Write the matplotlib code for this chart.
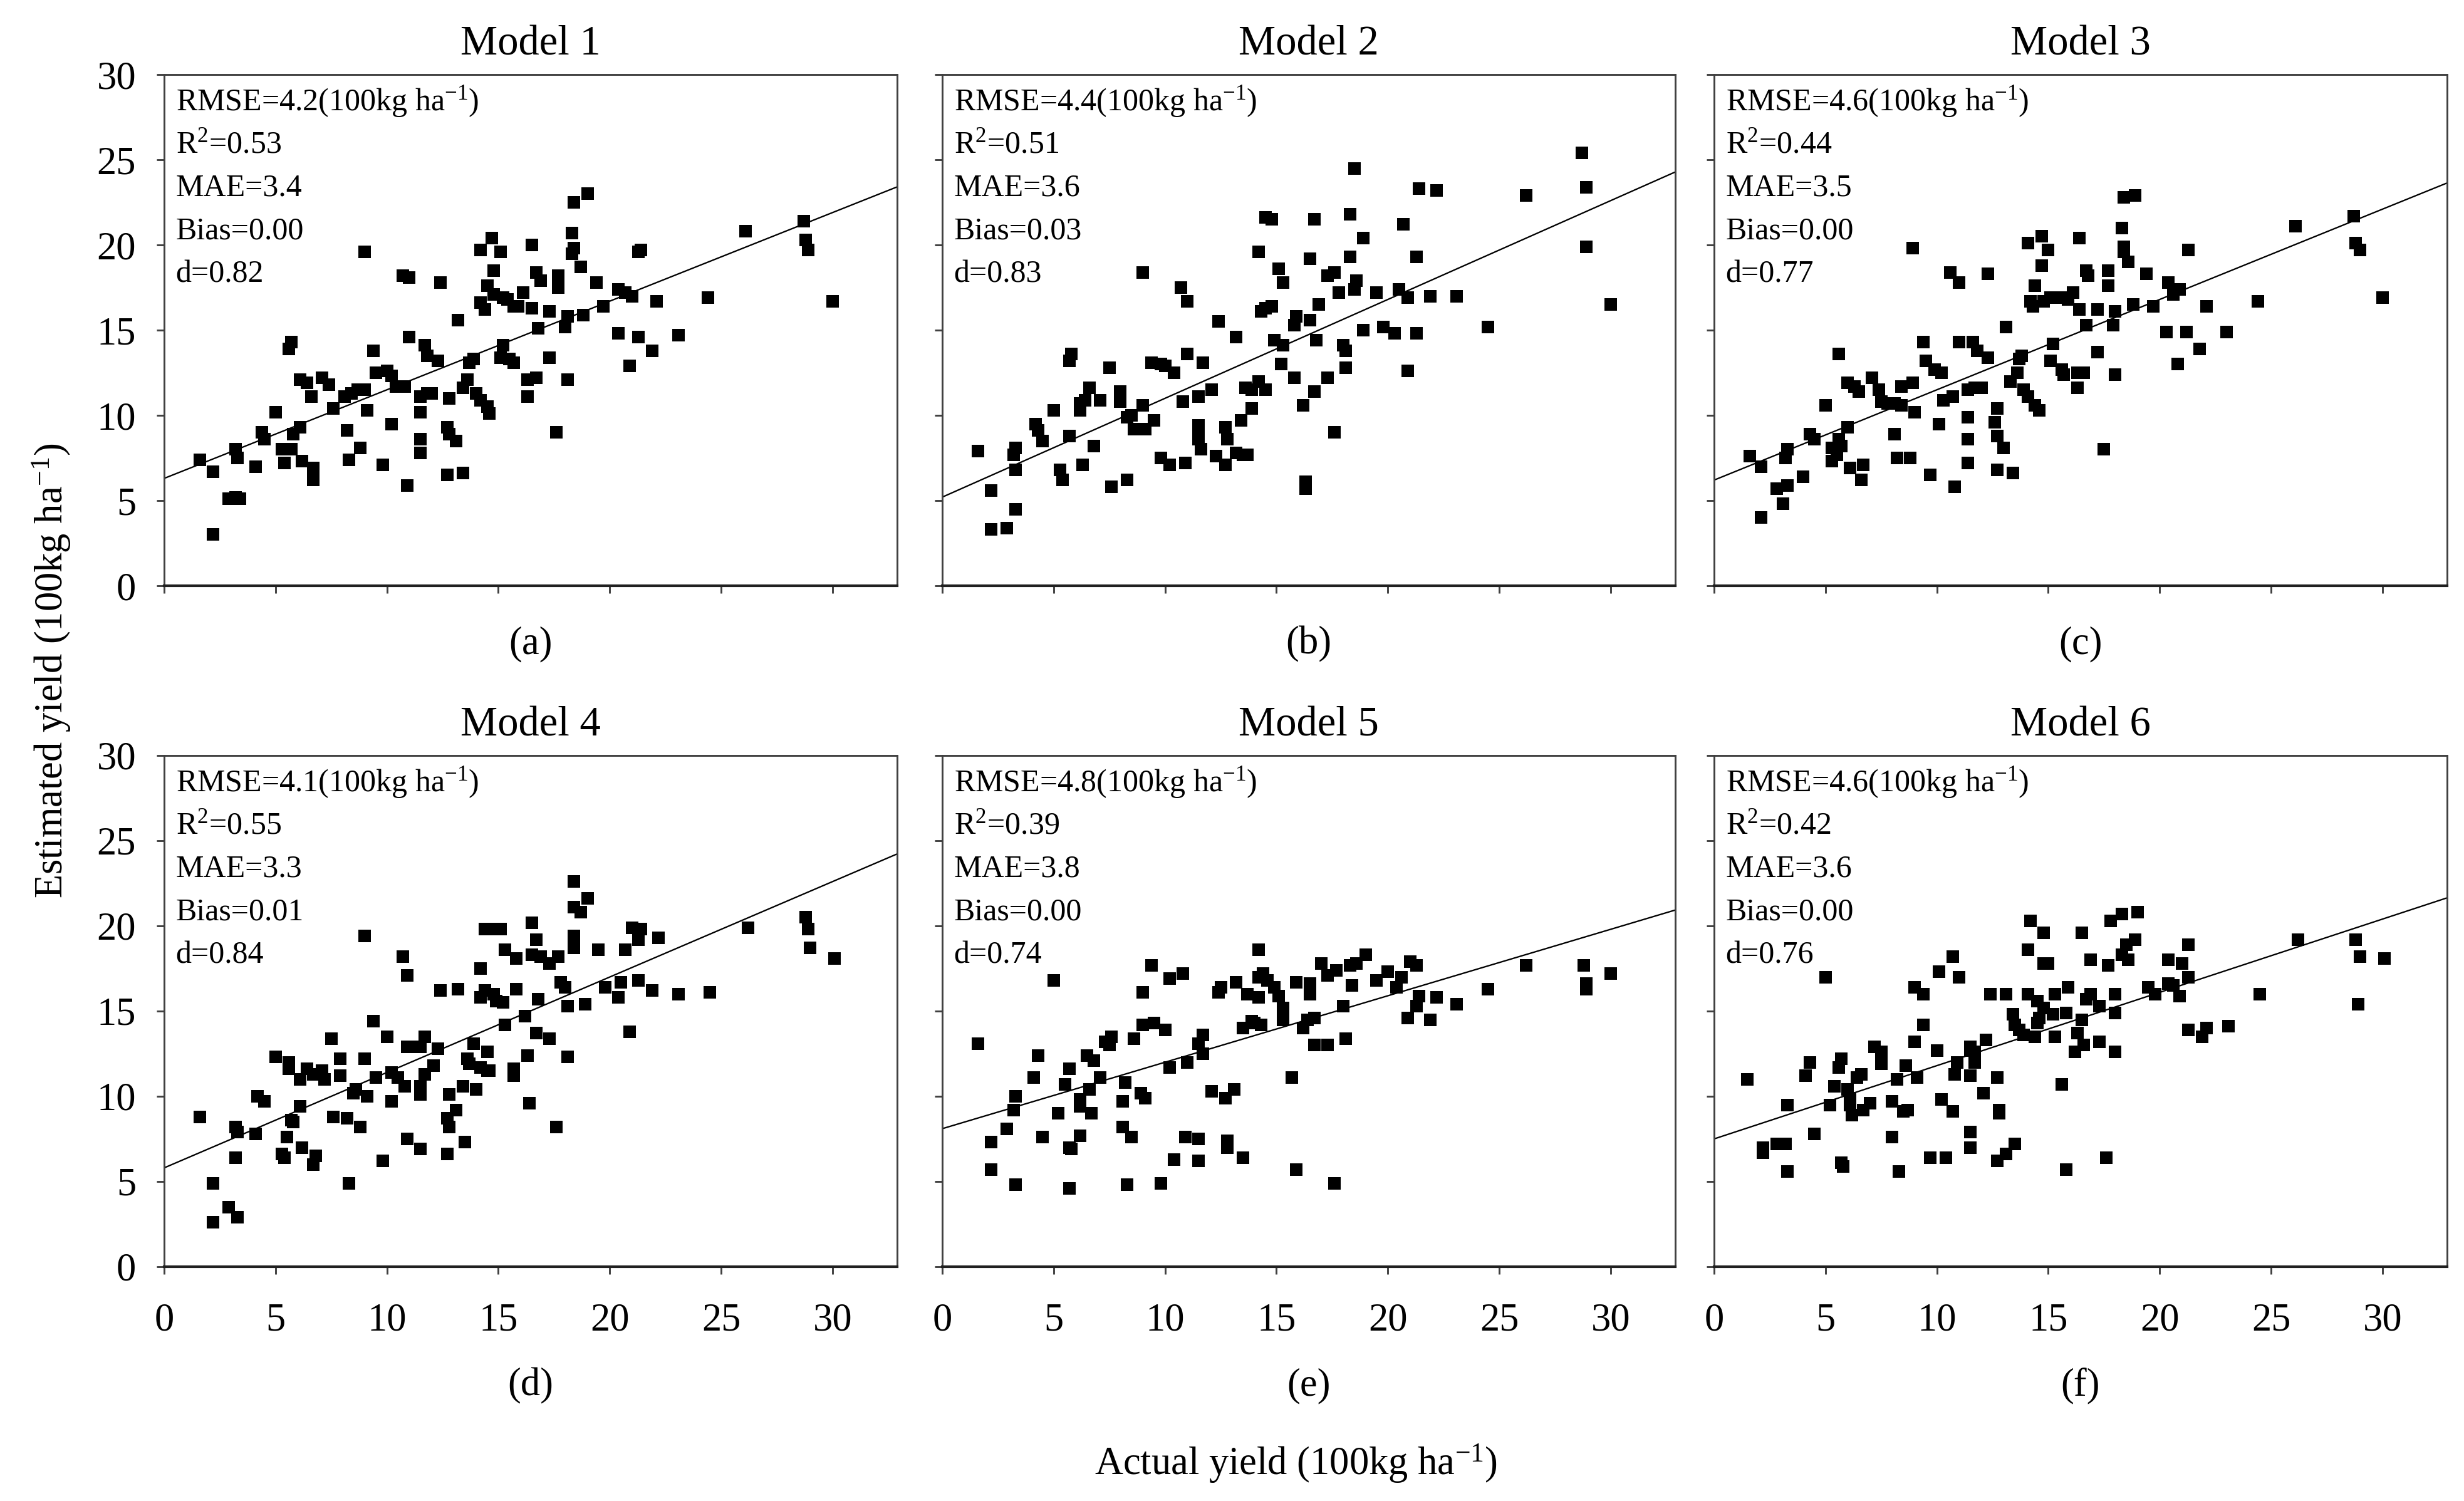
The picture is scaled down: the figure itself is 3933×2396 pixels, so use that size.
import matplotlib
matplotlib.use("Agg")
import matplotlib.pyplot as plt
import numpy as np

plt.rcParams['font.family'] = ['Liberation Serif', 'DejaVu Serif']
plt.rcParams['mathtext.fontset'] = 'custom'
plt.rcParams['mathtext.rm'] = 'Liberation Serif'
plt.rcParams['mathtext.it'] = 'Liberation Serif:italic'

# ---------------- data ----------------
titles = ["Model 1", "Model 2", "Model 3", "Model 4", "Model 5", "Model 6"]
panel_tags = ["(a)", "(b)", "(c)", "(d)", "(e)", "(f)"]
rmse = [4.2, 4.4, 4.6, 4.1, 4.8, 4.6]
r2 = [0.53, 0.51, 0.44, 0.55, 0.39, 0.42]
mae = [3.4, 3.6, 3.5, 3.3, 3.8, 3.6]
bias = [0.00, 0.03, 0.00, 0.01, 0.00, 0.00]
d_index = [0.82, 0.83, 0.77, 0.84, 0.74, 0.76]
fit_intercept = [6.3, 5.2, 6.2, 5.8, 8.1, 7.5]
fit_slope = [0.52, 0.58, 0.53, 0.56, 0.39, 0.43]
ticks = [0, 5, 10, 15, 20, 25, 30]

m1_x = [1.6, 2.2, 2.2, 2.9, 3.2, 3.4, 3.2, 3.3, 4.1, 4.4,
        4.5, 5.0, 5.3, 5.4, 5.7, 5.8, 6.1, 5.7, 5.6, 6.1,
        6.4, 6.2, 6.7, 6.7, 6.6, 7.1, 7.4, 7.6, 8.1, 8.4,
        8.7, 9.0, 8.2, 8.3, 8.8, 9.1, 9.0, 9.4, 9.5, 10.0,
        10.2, 10.4, 10.8, 10.2, 9.8, 10.7, 11.0, 11.0, 10.9, 11.5,
        11.8, 12.0, 11.5, 11.5, 11.5, 11.7, 11.8, 12.3, 12.4, 12.8,
        12.7, 12.8, 13.1, 12.7, 13.4, 13.2, 13.4, 13.6, 13.7, 13.9,
        14.0, 14.2, 14.5, 14.6, 14.2, 14.2, 14.4, 14.5, 14.7, 14.8,
        14.8, 15.1, 15.2, 15.4, 15.7, 15.9, 16.1, 16.5, 16.5, 16.7,
        16.9, 16.8, 15.2, 15.1, 15.5, 15.7, 16.3, 16.7, 16.3, 17.3,
        17.3, 17.6, 17.7, 17.7, 18.0, 18.1, 18.1, 18.3, 18.4, 18.3,
        18.4, 19.0, 18.7, 18.8, 19.4, 19.7, 20.4, 20.4, 20.7, 21.0,
        20.9, 21.3, 21.3, 21.4, 21.9, 22.1, 23.1, 24.4, 26.1, 28.7,
        28.8, 28.9, 30.0]
m1_y = [7.4, 6.7, 3.0, 5.1, 5.2, 5.1, 8.0, 7.5, 7.0, 9.0,
        8.6, 10.2, 8.0, 7.2, 8.0, 8.9, 9.3, 14.3, 13.9, 12.1,
        11.9, 7.3, 6.9, 6.2, 11.1, 12.2, 11.8, 10.4, 11.1, 11.3,
        11.5, 11.5, 9.1, 7.4, 8.1, 10.3, 19.6, 13.8, 12.5, 12.6,
        12.3, 11.7, 11.7, 9.5, 7.1, 18.2, 18.1, 14.6, 5.9, 11.1,
        11.3, 11.3, 10.2, 8.6, 7.8, 14.1, 13.5, 13.2, 17.8, 11.0,
        9.3, 8.9, 8.5, 6.5, 6.6, 15.6, 11.6, 12.1, 13.1, 13.3,
        11.3, 10.9, 10.5, 10.1, 19.7, 16.6, 16.2, 17.6, 20.4, 18.5,
        17.1, 19.6, 16.9, 16.8, 16.4, 16.4, 17.2, 16.3, 20.0, 18.4,
        17.9, 15.1, 14.1, 13.4, 13.3, 13.1, 12.1, 12.2, 11.1, 16.1,
        13.4, 9.0, 18.2, 17.5, 15.2, 15.8, 12.1, 20.7, 19.8, 19.5,
        22.5, 23.0, 18.7, 15.9, 17.8, 16.4, 14.8, 17.4, 17.2, 17.0,
        12.9, 14.6, 19.6, 19.7, 13.8, 16.7, 14.7, 16.9, 20.8, 21.4,
        20.3, 19.7, 16.7]

m2_x = [1.6, 2.2, 2.2, 2.9, 3.3, 3.3, 3.2, 3.3, 4.2, 4.3,
        4.5, 5.0, 5.3, 5.4, 5.7, 5.7, 5.8, 6.2, 6.2, 6.3,
        6.6, 6.4, 6.8, 7.1, 7.5, 7.6, 8.0, 8.0, 8.3, 8.3,
        8.5, 8.6, 9.0, 9.0, 9.1, 9.5, 9.4, 9.8, 10.0, 10.4,
        9.8, 10.2, 10.7, 11.0, 11.0, 10.8, 10.9, 11.5, 11.5, 11.5,
        11.5, 11.6, 11.7, 12.1, 12.3, 12.4, 12.7, 12.7, 12.8, 13.2,
        13.5, 13.7, 13.2, 13.4, 13.9, 13.6, 13.9, 14.2, 14.5, 14.2,
        14.5, 14.8, 14.3, 14.5, 14.8, 14.9, 15.1, 15.3, 15.3, 15.2,
        15.8, 15.8, 15.9, 16.5, 16.5, 16.7, 16.8, 16.9, 16.7, 16.2,
        16.3, 16.3, 17.3, 17.3, 17.6, 17.6, 17.8, 18.0, 18.1, 18.1,
        18.3, 18.3, 18.5, 18.5, 18.6, 18.9, 18.9, 19.5, 19.8, 20.3,
        20.5, 20.7, 20.9, 20.9, 21.3, 21.3, 21.4, 22.2, 21.9, 23.1,
        24.5, 26.2, 28.7, 28.9, 28.9, 30.0]
m2_y = [7.9, 5.6, 3.3, 3.4, 4.5, 8.1, 7.7, 6.8, 9.5, 9.1,
        8.5, 10.3, 6.8, 6.2, 8.8, 13.2, 13.6, 10.7, 10.3, 7.1,
        11.6, 10.9, 8.2, 10.9, 12.8, 5.8, 11.4, 10.8, 6.2, 9.9,
        10.0, 9.2, 10.6, 18.4, 9.2, 9.7, 13.1, 13.0, 12.9, 12.5,
        7.5, 7.1, 17.5, 16.7, 13.6, 10.8, 7.2, 11.1, 9.4, 8.9,
        8.6, 8.0, 13.1, 11.5, 7.6, 15.5, 7.1, 9.3, 8.6, 7.8,
        7.7, 7.7, 14.6, 9.7, 10.4, 11.6, 11.5, 12.0, 11.5, 19.6,
        21.6, 21.5, 16.1, 16.3, 16.4, 14.4, 18.6, 17.8, 14.1, 13.0,
        12.2, 15.3, 15.8, 15.6, 19.2, 21.5, 14.4, 16.5, 11.4, 10.6,
        6.1, 5.7, 12.2, 18.2, 18.4, 9.0, 17.2, 14.1, 13.8, 12.8,
        21.8, 19.3, 24.5, 17.4, 17.9, 15.0, 20.4, 17.2, 15.2, 14.8,
        17.4, 21.2, 16.9, 12.6, 14.8, 19.3, 23.3, 23.2, 17.0, 17.0,
        15.2, 22.9, 25.4, 23.4, 19.9, 16.5]

m3_x = [1.6, 2.1, 2.1, 2.8, 3.3, 3.1, 3.2, 3.3, 4.0, 4.3,
        4.5, 5.0, 5.3, 5.3, 5.5, 5.6, 5.7, 6.0, 5.6, 6.0,
        6.3, 6.5, 6.1, 6.7, 6.6, 7.1, 7.4, 7.5, 7.8, 8.1,
        8.4, 8.4, 8.9, 9.0, 8.1, 8.2, 8.8, 8.9, 9.4, 9.5,
        9.9, 10.2, 10.3, 10.7, 10.1, 9.7, 10.6, 11.0, 11.0, 10.8,
        11.4, 11.7, 12.0, 11.4, 11.4, 11.4, 11.6, 11.8, 12.3, 12.3,
        12.7, 12.6, 12.7, 13.0, 12.7, 13.4, 13.1, 13.3, 13.6, 13.7,
        13.8, 13.9, 14.1, 14.4, 14.6, 14.1, 14.2, 14.3, 14.4, 14.7,
        14.7, 14.8, 15.0, 15.1, 15.4, 15.7, 15.9, 16.1, 16.4, 16.4,
        16.7, 16.8, 16.7, 15.2, 15.1, 15.6, 15.7, 16.3, 16.6, 16.3,
        17.2, 17.2, 17.5, 17.7, 17.7, 17.9, 18.0, 18.0, 18.3, 18.4,
        18.4, 18.4, 18.9, 18.6, 18.8, 19.4, 19.7, 20.3, 20.4, 20.6,
        20.9, 20.8, 21.2, 21.3, 21.8, 22.1, 23.0, 24.4, 26.1, 28.7,
        28.8, 29.0, 30.0]
m3_y = [7.6, 7.0, 4.0, 5.7, 5.9, 4.8, 7.5, 8.0, 6.4, 8.9,
        8.6, 10.6, 8.1, 7.3, 7.7, 8.6, 8.2, 9.3, 13.6, 11.9,
        11.7, 11.4, 6.9, 7.1, 6.2, 12.2, 11.5, 10.8, 10.7, 10.7,
        10.6, 11.7, 11.9, 10.2, 8.9, 7.5, 7.5, 19.8, 14.3, 13.2,
        12.7, 12.5, 10.9, 11.1, 9.5, 6.5, 18.4, 17.8, 14.3, 5.8,
        11.5, 11.6, 11.6, 9.9, 8.6, 7.2, 14.3, 13.8, 13.4, 18.3,
        10.4, 9.6, 8.8, 8.1, 6.8, 6.6, 15.2, 12.0, 12.5, 13.3,
        13.5, 11.5, 11.1, 10.6, 10.3, 20.1, 16.7, 16.4, 17.6, 20.5,
        18.8, 16.7, 19.7, 16.9, 16.9, 16.9, 16.8, 17.2, 16.2, 20.4,
        18.5, 18.2, 15.3, 14.2, 13.2, 12.7, 12.4, 12.5, 12.5, 11.6,
        16.2, 13.7, 8.0, 18.5, 17.6, 15.3, 16.1, 12.4, 21.0, 19.9,
        19.6, 22.8, 22.9, 19.0, 16.5, 18.3, 16.4, 14.9, 17.8, 17.1,
        17.4, 13.0, 14.9, 19.7, 13.9, 16.4, 14.9, 16.7, 21.1, 21.7,
        20.1, 19.7, 16.9]

m4_x = [1.6, 2.2, 2.2, 2.9, 3.3, 3.2, 3.2, 3.3, 4.1, 4.2,
        4.5, 5.0, 5.3, 5.4, 5.5, 5.7, 5.8, 6.1, 5.6, 5.6,
        6.1, 6.4, 6.7, 6.2, 6.8, 6.7, 7.1, 7.2, 7.5, 7.6,
        7.9, 7.9, 8.2, 8.3, 8.5, 8.6, 8.8, 9.0, 9.0, 9.1,
        9.4, 9.5, 9.8, 10.0, 10.2, 10.2, 10.5, 10.8, 10.7, 10.9,
        10.9, 11.2, 11.5, 11.7, 10.9, 11.5, 11.5, 11.5, 11.7, 12.1,
        12.3, 12.4, 12.7, 12.8, 12.7, 12.8, 13.1, 13.2, 13.5, 13.4,
        13.6, 13.7, 13.9, 14.0, 14.2, 14.2, 14.5, 14.5, 14.6, 14.4,
        14.8, 15.1, 14.2, 14.4, 14.8, 14.9, 15.2, 15.3, 15.3, 15.7,
        15.7, 15.8, 15.8, 16.2, 16.3, 16.4, 16.5, 16.5, 16.7, 16.8,
        16.7, 16.9, 17.3, 17.3, 17.6, 17.7, 17.8, 18.0, 18.1, 18.1,
        18.4, 18.4, 18.4, 18.4, 18.7, 19.0, 18.9, 19.5, 19.8, 20.4,
        20.5, 20.7, 20.9, 21.0, 21.3, 21.4, 21.3, 21.9, 22.2, 23.1,
        24.5, 26.2, 28.8, 28.9, 29.0, 30.1]
m4_y = [8.8, 4.9, 2.6, 3.5, 2.9, 6.4, 8.2, 7.9, 7.8, 10.0,
        9.7, 12.3, 6.6, 6.4, 7.6, 8.6, 8.5, 9.4, 12.0, 11.6,
        11.0, 11.6, 11.3, 7.0, 6.5, 6.0, 11.5, 11.0, 13.4, 8.8,
        12.2, 11.2, 8.7, 4.9, 10.2, 10.4, 8.2, 19.4, 12.2, 10.0,
        14.4, 11.1, 6.2, 13.5, 11.4, 9.7, 11.1, 10.6, 18.2, 17.1,
        12.9, 12.9, 12.9, 13.5, 7.5, 6.9, 10.1, 10.6, 11.3, 11.8,
        12.8, 16.2, 6.6, 10.1, 8.7, 8.2, 9.2, 16.3, 7.3, 10.6,
        12.2, 11.9, 13.1, 10.4, 17.5, 11.7, 11.5, 12.6, 11.5, 19.8,
        19.8, 19.8, 15.8, 16.2, 16.0, 15.6, 15.5, 18.6, 14.2, 11.6,
        11.2, 18.1, 16.3, 14.7, 12.4, 9.6, 20.2, 18.3, 19.2, 15.7,
        13.7, 18.2, 17.8, 13.4, 8.2, 18.2, 16.7, 16.4, 15.3, 12.3,
        22.6, 21.1, 19.4, 18.7, 20.8, 21.6, 15.4, 18.6, 16.4, 15.8,
        16.7, 18.6, 13.8, 19.9, 19.2, 19.8, 16.8, 16.2, 19.3, 16.0,
        16.1, 19.9, 20.5, 19.8, 18.7, 18.1]

m5_x = [1.6, 2.2, 2.2, 2.9, 3.2, 3.3, 3.3, 4.1, 4.3, 4.5,
        5.0, 5.2, 5.5, 5.7, 5.8, 5.7, 5.7, 6.2, 6.2, 6.2,
        6.5, 6.6, 6.7, 6.8, 7.1, 7.3, 7.5, 7.6, 8.1, 8.1,
        8.2, 8.3, 8.5, 8.6, 8.9, 9.1, 9.0, 9.0, 9.4, 9.5,
        10.0, 9.8, 10.2, 10.2, 10.4, 10.8, 11.0, 10.9, 11.5, 11.5,
        11.5, 11.7, 11.7, 12.1, 12.4, 12.5, 12.7, 12.8, 12.8, 13.1,
        13.5, 13.2, 13.5, 13.7, 13.9, 14.0, 14.3, 14.2, 14.2, 14.2,
        14.4, 14.6, 14.9, 15.1, 15.3, 15.3, 15.7, 15.9, 15.9, 16.5,
        16.5, 16.2, 16.4, 16.7, 16.7, 17.3, 17.0, 17.3, 17.7, 17.6,
        18.0, 18.1, 18.3, 18.4, 18.6, 19.0, 19.5, 20.0, 20.4, 20.6,
        21.0, 21.3, 21.4, 21.3, 20.9, 21.9, 22.2, 23.1, 24.5, 26.2,
        28.8, 28.9, 28.9, 30.0]
m5_y = [13.1, 7.3, 5.7, 8.1, 9.2, 10.0, 4.8, 11.1, 12.4, 7.6,
        16.8, 9.0, 10.7, 11.6, 6.9, 7.0, 4.6, 9.8, 7.7, 9.4,
        12.4, 10.4, 9.0, 12.1, 11.1, 13.2, 13.0, 13.5, 9.7, 8.2,
        10.8, 4.8, 7.6, 13.4, 10.2, 9.9, 16.1, 14.2, 17.7, 14.3,
        13.9, 4.9, 11.7, 16.9, 6.3, 17.2, 12.0, 7.6, 7.5, 6.2,
        13.1, 12.5, 13.6, 10.3, 16.1, 16.4, 9.9, 7.4, 7.0, 10.4,
        6.4, 16.7, 14.0, 16.0, 14.4, 14.3, 14.2, 18.6, 15.8, 17.0,
        17.2, 16.8, 16.4, 15.9, 15.2, 14.5, 11.1, 5.7, 16.7, 16.6,
        16.0, 14.0, 14.5, 14.6, 13.0, 13.0, 17.8, 17.1, 17.4, 4.9,
        15.3, 13.4, 17.7, 16.5, 17.8, 18.3, 16.8, 17.3, 16.4, 17.0,
        17.9, 17.7, 15.9, 15.3, 14.6, 14.5, 15.8, 15.4, 16.3, 17.7,
        17.7, 16.6, 16.3, 17.2]

m6_x = [1.5, 2.2, 2.2, 2.8, 3.2, 3.3, 3.3, 4.1, 4.3, 4.5,
        5.0, 5.2, 5.4, 5.6, 5.7, 5.7, 5.8, 6.0, 6.1, 6.1,
        6.2, 6.4, 6.6, 6.7, 7.0, 7.2, 7.5, 7.5, 8.0, 8.0,
        8.2, 8.3, 8.5, 8.7, 8.6, 9.0, 9.4, 9.0, 9.1, 9.4,
        9.7, 10.0, 10.1, 10.2, 10.4, 10.7, 10.7, 10.8, 10.9, 11.0,
        11.5, 11.5, 11.5, 11.5, 11.5, 11.7, 11.7, 12.1, 12.2, 12.4,
        12.7, 12.8, 12.8, 12.7, 13.1, 13.5, 13.1, 13.4, 13.5, 13.7,
        13.9, 14.1, 14.2, 14.1, 14.4, 14.5, 14.5, 14.6, 14.8, 14.8,
        14.8, 15.0, 15.2, 15.3, 15.3, 15.6, 15.8, 15.8, 15.9, 16.5,
        16.5, 16.3, 16.2, 16.6, 16.7, 16.9, 16.9, 17.3, 17.3, 17.6,
        17.7, 17.8, 18.0, 18.0, 18.0, 18.3, 18.3, 18.5, 18.6, 18.9,
        19.0, 19.5, 19.8, 20.4, 20.4, 20.6, 20.9, 21.0, 21.3, 21.3,
        21.3, 21.9, 22.1, 23.1, 24.5, 26.2, 28.8, 29.0, 28.9, 30.1]
m6_y = [11.0, 7.0, 6.7, 7.2, 7.2, 9.5, 5.6, 11.2, 12.0, 7.8,
        17.0, 9.5, 10.6, 11.7, 12.2, 6.1, 5.9, 10.4, 9.9, 9.5,
        8.9, 11.1, 11.3, 9.2, 9.6, 12.9, 12.6, 11.9, 9.7, 7.6,
        11.0, 5.6, 9.1, 9.2, 11.8, 16.4, 16.0, 13.2, 11.1, 14.2,
        6.4, 12.7, 17.3, 9.8, 6.4, 18.2, 9.1, 11.3, 12.0, 17.0,
        12.9, 12.7, 11.2, 7.9, 7.0, 12.0, 12.6, 10.2, 13.3, 16.0,
        11.1, 9.2, 9.0, 6.2, 6.6, 7.2, 16.0, 14.8, 14.2, 13.9,
        13.6, 18.6, 20.3, 16.0, 13.5, 14.3, 15.6, 14.6, 19.6, 15.2,
        17.8, 17.8, 14.8, 13.5, 16.0, 10.7, 14.9, 5.7, 16.4, 19.6,
        14.5, 13.7, 12.6, 13.0, 15.7, 16.0, 18.0, 15.3, 13.2, 6.4,
        17.7, 20.3, 16.0, 14.9, 12.6, 18.3, 20.7, 18.9, 18.0, 19.2,
        20.8, 16.4, 16.0, 16.6, 18.0, 16.5, 15.9, 17.8, 18.9, 17.0,
        13.9, 13.5, 14.0, 14.1, 16.0, 19.2, 19.2, 18.2, 15.4, 18.1]

xs = [m1_x, m2_x, m3_x, m4_x, m5_x, m6_x]
ys = [m1_y, m2_y, m3_y, m4_y, m5_y, m6_y]

# ---------------- figure ----------------
W, H, DPI = 3933, 2396, 300
fig = plt.figure(figsize=(W / DPI, H / DPI), dpi=DPI)

col_left = [262 / W, 1504 / W, 2736 / W]
ax_w = 1170 / W
row_bottom = [1 - 935 / H, 1 - 2022 / H]
ax_h = 816 / H

spine_col = '#404040'
for i in range(6):
    r, c = divmod(i, 3)
    ax = fig.add_axes([col_left[c], row_bottom[r], ax_w, ax_h])
    ax.scatter(xs[i], ys[i], marker='s', s=4.8 ** 2, color='black',
               linewidths=0, zorder=3)
    xl = np.array([0.0, 33.0])
    ax.plot(xl, fit_intercept[i] + fit_slope[i] * xl, color='black',
            lw=0.55, zorder=2)
    ax.set_xlim(0, 32.9)
    ax.set_ylim(0, 30)
    ax.set_xticks(ticks)
    ax.set_yticks(ticks)
    ax.tick_params(direction='out', length=2.8, width=0.7, color=spine_col,
                   labelsize=15, top=False, right=False)
    ax.tick_params(axis='x', pad=11)
    ax.tick_params(axis='y', pad=8)
    if r == 0:
        ax.set_xticklabels([])
    if c != 0:
        ax.set_yticklabels([])
    for sp in ax.spines.values():
        sp.set_color(spine_col)
        sp.set_linewidth(0.7)
    ax.spines['bottom'].set_linewidth(1.0)
    ax.spines['bottom'].set_color('#202020')
    ax.set_title(titles[i], fontsize=16, pad=7.5)

    stats = [
        f"RMSE={rmse[i]:.1f}(100kg ha$^{{\\mathregular{{-1}}}}$)",
        f"R$^{{\\mathregular{{2}}}}$={r2[i]:.2f}",
        f"MAE={mae[i]:.1f}",
        f"Bias={bias[i]:.2f}",
        f"d={d_index[i]:.2f}",
    ]
    for k, s in enumerate(stats):
        ax.text(0.016, 0.947 - k * 0.0845, s, transform=ax.transAxes,
                ha='left', va='center', fontsize=12)

    tag_y = -0.114 if r == 0 else -0.233
    ax.text(0.5, tag_y, panel_tags[i], transform=ax.transAxes,
            ha='center', va='center', fontsize=15)

fig.text(0.021, 0.553, "Estimated yield (100kg ha$^{\\mathregular{-1}}$)",
         rotation=90, ha='center', va='center', fontsize=15)
fig.text(0.526, 0.025, "Actual yield (100kg ha$^{\\mathregular{-1}}$)",
         ha='center', va='center', fontsize=15)

fig.savefig("out.png", dpi=DPI)
